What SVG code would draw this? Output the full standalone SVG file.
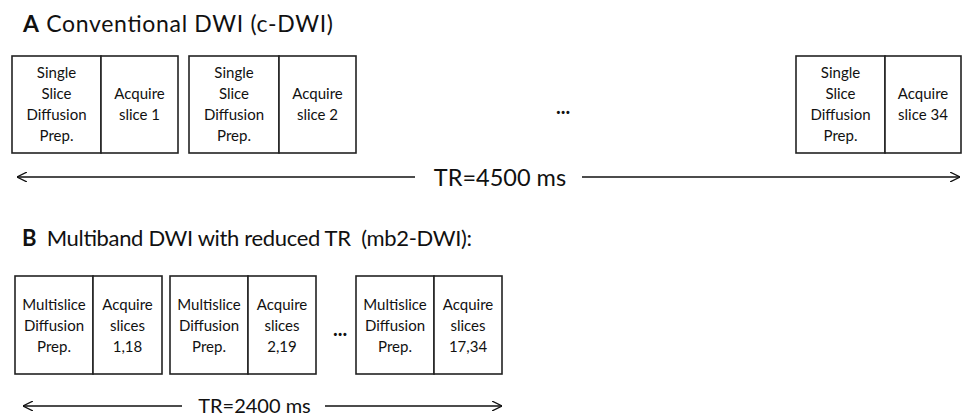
<svg xmlns="http://www.w3.org/2000/svg" width="962" height="416" viewBox="0 0 962 416">
<style>
text{font-family:"Lato","Liberation Sans",sans-serif;fill:#111}
.b{fill:#fff;stroke:#222;stroke-width:1.6}
.t{font-size:15px;text-anchor:middle}
.ha{font-size:23px}
.hb{font-size:22px;white-space:pre}
.tr{font-size:20px;text-anchor:middle}
.dots{font-size:20px;font-weight:bold;text-anchor:middle}
.ln{stroke:#111;stroke-width:1.3;fill:none}
</style>
<defs>
<marker id="ah" viewBox="0 0 10 10" refX="10" refY="5" markerWidth="10" markerHeight="10" markerUnits="userSpaceOnUse" orient="auto-start-reverse">
<path d="M0,0 L10,5 L0,10" fill="none" stroke="#111" stroke-width="1.3"/>
</marker>
</defs>
<text class="ha" x="23" y="32" textLength="310" lengthAdjust="spacing"><tspan font-weight="bold">A</tspan> Conventional DWI (c-DWI)</text>
<g id="a1">
<rect class="b" x="12" y="56" width="89" height="97"/>
<text class="t" x="56.5" y="78">Single</text>
<text class="t" x="56.5" y="99">Slice</text>
<text class="t" x="56.5" y="120">Diffusion</text>
<text class="t" x="56.5" y="141">Prep.</text>
</g>
<g id="a2">
<rect class="b" x="101" y="56" width="77" height="97"/>
<text class="t" x="139.5" y="99">Acquire</text>
<text class="t" x="139.5" y="120">slice 1</text>
</g>
<g id="a3">
<rect class="b" x="189" y="56" width="90" height="97"/>
<text class="t" x="234" y="78">Single</text>
<text class="t" x="234" y="99">Slice</text>
<text class="t" x="234" y="120">Diffusion</text>
<text class="t" x="234" y="141">Prep.</text>
</g>
<g id="a4">
<rect class="b" x="279" y="56" width="77" height="97"/>
<text class="t" x="317.5" y="99">Acquire</text>
<text class="t" x="317.5" y="120">slice 2</text>
</g>
<text class="dots" x="563" y="114">...</text>
<g id="a5">
<rect class="b" x="796" y="56" width="89" height="97"/>
<text class="t" x="840.5" y="78">Single</text>
<text class="t" x="840.5" y="99">Slice</text>
<text class="t" x="840.5" y="120">Diffusion</text>
<text class="t" x="840.5" y="141">Prep.</text>
</g>
<g id="a6">
<rect class="b" x="885" y="56" width="76" height="97"/>
<text class="t" x="923" y="99">Acquire</text>
<text class="t" x="923" y="120">slice 34</text>
</g>
<text class="tr" x="500" y="186" style="font-size:23.5px">TR=4500 ms</text>

<text class="hb" x="22" y="246" textLength="450" lengthAdjust="spacing"><tspan font-weight="bold">B</tspan>  Multiband DWI with reduced TR  (mb2-DWI):</text>
<g id="b1">
<rect class="b" x="15" y="276" width="78" height="98"/>
<text class="t" x="54" y="310">Multislice</text>
<text class="t" x="54" y="331">Diffusion</text>
<text class="t" x="54" y="352">Prep.</text>
</g>
<g id="b2">
<rect class="b" x="93" y="276" width="69" height="98"/>
<text class="t" x="127.5" y="310">Acquire</text>
<text class="t" x="127.5" y="331">slices</text>
<text class="t" x="127.5" y="352">1,18</text>
</g>
<g id="b3">
<rect class="b" x="170" y="276" width="78" height="98"/>
<text class="t" x="209" y="310">Multislice</text>
<text class="t" x="209" y="331">Diffusion</text>
<text class="t" x="209" y="352">Prep.</text>
</g>
<g id="b4">
<rect class="b" x="248" y="276" width="68" height="98"/>
<text class="t" x="282" y="310">Acquire</text>
<text class="t" x="282" y="331">slices</text>
<text class="t" x="282" y="352">2,19</text>
</g>
<text class="dots" x="340" y="336">...</text>
<g id="b5">
<rect class="b" x="356" y="276" width="78" height="98"/>
<text class="t" x="395" y="310">Multislice</text>
<text class="t" x="395" y="331">Diffusion</text>
<text class="t" x="395" y="352">Prep.</text>
</g>
<g id="b6">
<rect class="b" x="434" y="276" width="68" height="98"/>
<text class="t" x="468" y="310">Acquire</text>
<text class="t" x="468" y="331">slices</text>
<text class="t" x="468" y="352">17,34</text>
</g>
<text class="tr" x="254.5" y="413">TR=2400 ms</text>

<g id="connectors">
<line class="ln" x1="415" y1="177" x2="17" y2="177" marker-end="url(#ah)"/>
<line class="ln" x1="582" y1="177" x2="960" y2="177" marker-end="url(#ah)"/>
<line class="ln" x1="182" y1="406" x2="23" y2="406" marker-end="url(#ah)"/>
<line class="ln" x1="325" y1="406" x2="502" y2="406" marker-end="url(#ah)"/>
</g>
</svg>
